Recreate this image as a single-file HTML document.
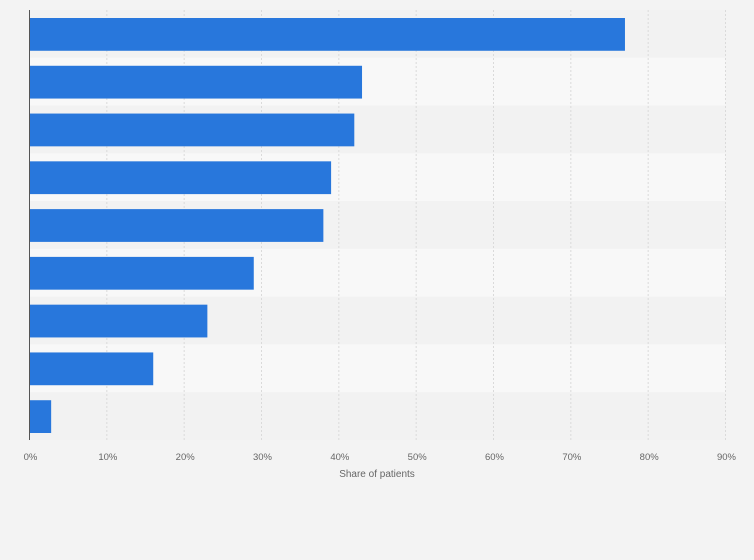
<!DOCTYPE html>
<html><head><meta charset="utf-8"><style>
body{margin:0;background:#f3f3f3;font-family:"Liberation Sans",sans-serif;}
svg{display:block}
</style></head><body>
<svg id="chart" width="754" height="560" xmlns="http://www.w3.org/2000/svg">
<rect x="0" y="0" width="754" height="560" fill="#f3f3f3"/>
<g id="bands"></g><g id="grid"></g><g id="bars"></g><g id="ticks"></g>
<line x1="29.5" y1="10" x2="29.5" y2="440" stroke="#555" stroke-width="1"/>
<text x="377" y="477" text-anchor="middle" font-size="10" fill="#666">Share of patients</text>
</svg>
<script>
const categories = ["Category 1","Category 2","Category 3","Category 4","Category 5","Category 6","Category 7","Category 8","Category 9"];
const values = [77, 43, 42, 39, 38, 29, 23, 16, 2.8];
const tickValues = [0,10,20,30,40,50,60,70,80,90];
const tickLabels = ["0%","10%","20%","30%","40%","50%","60%","70%","80%","90%"];
const NS="http://www.w3.org/2000/svg";
const x0=29.5, x1=725.5, plotTop=10, plotBottom=440, maxV=90;
const band=(plotBottom-plotTop)/categories.length;
function xs(v){return x0+(v/maxV)*(x1-x0);}
function ys(i){return plotTop+i*band;}
function mk(tag,attrs,parent){const e=document.createElementNS(NS,tag);for(const k in attrs)e.setAttribute(k,attrs[k]);document.getElementById(parent).appendChild(e);return e;}
categories.forEach((c,i)=>{
  const r=mk('rect',{x:x0,y:ys(i),width:x1-x0,height:band,fill:i%2?'#f8f8f8':'#f2f2f2'},'bands');
  
  
});
tickValues.forEach((t,i)=>{
  if(t>0){const l=mk('line',{x1:xs(t),x2:xs(t),y1:plotTop,y2:plotBottom,stroke:'#dadada','stroke-dasharray':'2,2'},'grid');
  
  }
  const tx=mk('text',{x:xs(t)+1,y:460,'text-anchor':'middle','font-size':'9.5',fill:'#666'},'ticks');
  tx.textContent=tickLabels[i];
  
  
});
values.forEach((v,i)=>{
  const b=mk('rect',{x:x0,y:ys(i)+8,width:xs(v)-x0,height:band-15,fill:'#2877dc'},'bars');
  
  
});
</script>
</body></html>
